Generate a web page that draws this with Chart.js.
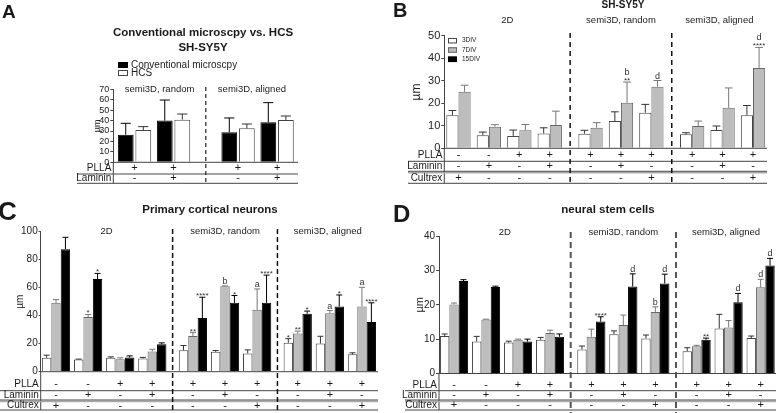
<!DOCTYPE html>
<html>
<head>
<meta charset="utf-8">
<script src="https://cdn.jsdelivr.net/npm/chart.js@4"></script>
<style>
  html, body { margin: 0; padding: 0; background: #fff; }
  #fig { position: relative; width: 777px; height: 413px; overflow: hidden; }
  #fig canvas { position: absolute; }
</style>
</head>
<body>
<div id="fig">
  <canvas id="panelA" width="390" height="195" style="left:0;top:0"></canvas>
  <canvas id="panelB" width="387" height="195" style="left:390px;top:0"></canvas>
  <canvas id="panelC" width="390" height="218" style="left:0;top:195px"></canvas>
  <canvas id="panelD" width="387" height="218" style="left:390px;top:195px"></canvas>
</div>
<script>
const FONT = '"Liberation Sans", Arial, Helvetica, sans-serif';

// conditions shared by panels B-D
const sectionNames = ['2D', 'semi3D, random', 'semi3D, aligned'];
const sectionSizes = [4, 3, 3];
const pllaRow = ['-', '-', '+', '+', '+', '+', '+', '+', '+', '+'];
const lamininRow = ['-', '+', '-', '+', '-', '+', '-', '-', '+', '-'];
const cultrexRow = ['+', '-', '-', '-', '-', '-', '+', '-', '-', '+'];
const divSeries = ['3DIV', '7DIV', '15DIV'];

// A - conventional microscopy vs HCS (SH-SY5Y)
const aSectionNames = ['semi3D, random', 'semi3D, aligned'];
const aSectionSizes = [2, 2];
const aPlla = ['+', '+', '+', '+'];
const aLaminin = ['-', '+', '-', '+'];
const aSeries = ['Conventional microscpy', 'HCS'];
const aConv = [26.5, 40, 28.8, 38.3];
const aConvErr = [10.9, 19.7, 13.7, 18.9];
const aHcs = [31, 40.9, 32.6, 40.6];
const aHcsErr = [3.2, 5.4, 4.1, 3.8];

// B - SH-SY5Y (no 15DIV values)
const b3div = [14.7, 5.8, 5.5, 6.6, 6.5, 12.1, 15.8, 6.2, 8.1, 14.7];
const b3divErr = [2.1, 1.4, 2.6, 2.5, 1.5, 4.1, 3.7, 0.7, 1.8, 4.3];
const b7div = [25.1, 9.6, 8, 10.3, 9.1, 20.2, 27.3, 9.9, 18, 35.7];
const b7divErr = [2.9, 0.9, 2.6, 6.2, 2.3, 9.2, 2.8, 2.2, 8.8, 9.1];
const b7divMarks = ['', '', '', '', '', '**b', 'd', '', '', '****d'];
const b15div = [];

// C - primary cortical neurons
const c3div = [9.9, 8.7, 9.9, 9.5, 15.4, 14.2, 13, 20.7, 20.1, 12.4];
const c3divErr = [1.9, 0.3, 0.7, 0.7, 3.3, 0.9, 2.6, 2.9, 5.2, 1.1];
const c3divMarks = ['', '', '', '', '', '', '', '*', '', ''];
const c7div = [49.2, 39, 8.9, 14.5, 25.5, 61, 44.2, 27.2, 41.8, 46.6];
const c7divErr = [2.3, 1.9, 1, 1.5, 2.4, 0.3, 14.9, 1.8, 1.9, 13.7];
const c7divMarks = ['', '*', '', '', '**', 'b', 'a', '**', 'a', 'a'];
const c15div = [87.5, 66.2, 10.1, 19.6, 38.3, 49.2, 49.2, 41.4, 46.6, 35.5];
const c15divErr = [8.5, 4, 1.2, 1, 14.9, 5.2, 19.8, 1.9, 8.2, 13.7];
const c15divMarks = ['', '*', '', '', '****', '*', '****', '*', '*', '****'];

// D - neural stem cells
const d3div = [10.9, 9.3, 9.0, 9.8, 7.0, 11.4, 10.2, 6.5, 13.1, 10.3];
const d3divErr = [0.6, 1.5, 0.4, 0.7, 1.0, 1.0, 1.0, 1.0, 4.1, 0.6];
const d7div = [20.1, 15.7, 9.8, 11.8, 10.7, 14.1, 17.9, 7.9, 13.4, 25.1];
const d7divErr = [0.4, 0.1, 0.2, 0.8, 2.2, 2.9, 1.5, 0.3, 2.0, 2.3];
const d7divMarks = ['', '', '', '', '', '', 'b', '', '', 'd'];
const d15div = [26.9, 25.2, 9.3, 10.7, 15.1, 25.3, 26.2, 9.8, 20.7, 31.4];
const d15divErr = [0.4, 0.2, 0.7, 0.8, 1.4, 3.7, 2.7, 0.5, 2.6, 2.1];
const d15divMarks = ['', '', '', '', '****', 'd', 'd', '**', 'd', 'd'];

const WHITE = { bg: '#ffffff', border: '#444444', err: '#333333' };
const GRAY = { bg: '#bdbdbd', border: '#666666', err: '#777777' };
const BLACK = { bg: '#000000', border: '#000000', err: '#000000' };

// x position of each group; sections are pushed apart by `gap`
function groupPositions(sizes, gap) {
  const xs = [];
  sizes.forEach((n, s) => {
    for (let i = 0; i < n; i++) xs.push(xs.length + s * gap);
  });
  return xs;
}

function series(label, data, errors, marks, style, pct) {
  return {
    label, data, errors, marks: marks || [],
    backgroundColor: style.bg, borderColor: style.border, errColor: style.err,
    borderWidth: 1, categoryPercentage: pct[0], barPercentage: pct[1], skipNull: true
  };
}

function decor(p) {
  const line = (ctx, x1, y1, x2, y2) => {
    ctx.beginPath(); ctx.moveTo(x1, y1); ctx.lineTo(x2, y2); ctx.stroke();
  };
  const text = (ctx, str, x, y, size, align, weight) => {
    ctx.font = `${weight || 'normal'} ${size}px ${FONT}`;
    ctx.textAlign = align || 'center';
    ctx.fillText(str, x, y);
  };
  return {
    id: 'decor',
    afterDatasetsDraw(chart) {
      const { ctx, scales: { y } } = chart;
      ctx.save();
      chart.data.datasets.forEach((ds, di) => {
        chart.getDatasetMeta(di).data.forEach((bar, i) => {
          const v = ds.data[i];
          if (v == null) return;
          const top = y.getPixelForValue(v + (ds.errors[i] || 0));
          const half = bar.width * 0.32;
          ctx.strokeStyle = ds.errColor;
          ctx.lineWidth = 1;
          line(ctx, bar.x, bar.y, bar.x, top);
          line(ctx, bar.x - half, top, bar.x + half, top);
          const mark = ds.marks[i] || '';
          const stars = mark.replace(/[^*]/g, '');
          const letter = mark.replace(/\*/g, '');
          ctx.fillStyle = '#333';
          ctx.textBaseline = 'alphabetic';
          if (stars) text(ctx, stars, bar.x, top + 1, 8);
          if (letter) text(ctx, letter, bar.x, top - (stars ? 7.5 : 2), 9);
        });
      });
      ctx.restore();
    },
    afterDraw(chart) {
      const { ctx, chartArea: a, scales: { x } } = chart;
      const xs = chart.data.labels.map(v => x.getPixelForValue(v));
      ctx.save();
      ctx.fillStyle = '#1a1a1a';
      ctx.textBaseline = 'middle';

      // zero line + condition table
      const tb = p.table;
      ctx.strokeStyle = '#444';
      ctx.lineWidth = 1;
      line(ctx, a.left, a.bottom, a.right, a.bottom);
      line(ctx, a.left, a.bottom, a.left, a.bottom + tb.lines[tb.lines.length - 1]);
      tb.lines.forEach((dy, r) => {
        const yy = a.bottom + dy;
        if (r === tb.double) {
          ctx.strokeStyle = '#aaa'; ctx.lineWidth = 1.5;
          line(ctx, tb.start, yy + 1.5, a.right, yy + 1.5);
        }
        ctx.strokeStyle = '#444'; ctx.lineWidth = 1;
        line(ctx, tb.start, yy, a.right, yy);
      });
      p.rows.forEach(([label, signs], r) => {
        const yy = a.bottom + tb.text[r];
        text(ctx, label, a.left - 2, yy, tb.size, 'right');
        signs.forEach((s, i) => text(ctx, s, xs[i], yy, tb.size + 1));
      });

      // section separators and headings
      const bounds = [a.left];
      let idx = 0;
      p.sizes.forEach((n, s) => {
        idx += n;
        if (s < p.sizes.length - 1) bounds.push((xs[idx - 1] + xs[idx]) / 2);
      });
      bounds.push(a.right);
      ctx.strokeStyle = p.dash.color;
      ctx.lineWidth = p.dash.width;
      ctx.setLineDash(p.dash.pattern);
      bounds.slice(1, -1).forEach(bx => line(ctx, bx, p.dash.top, bx, p.dash.bottom));
      ctx.setLineDash([]);
      p.names.forEach((name, s) => text(ctx, name, (bounds[s] + bounds[s + 1]) / 2, p.sectionY, 9.5));

      // legend
      const lg = p.legend;
      if (lg) {
        chart.data.datasets.forEach((ds, i) => {
          const cy = lg.y + i * lg.dy;
          ctx.fillStyle = ds.backgroundColor;
          ctx.fillRect(lg.x, cy - lg.h / 2, lg.w, lg.h);
          ctx.strokeStyle = ds.borderColor;
          ctx.lineWidth = 1;
          ctx.strokeRect(lg.x + 0.5, cy - lg.h / 2 + 0.5, lg.w - 1, lg.h - 1);
          ctx.fillStyle = '#1a1a1a';
          text(ctx, ds.label, lg.x + lg.w + lg.gap, cy, lg.size, 'left');
        });
      }

      // titles and panel letter
      p.titles.forEach(t => text(ctx, t.text, t.x, t.y, t.size, 'center', 'bold'));
      ctx.textBaseline = 'alphabetic';
      text(ctx, p.letter.text, p.letter.x, p.letter.y, p.letter.size, 'left', 'bold');
      ctx.restore();
    }
  };
}

function buildPanel(id, p) {
  const canvas = document.getElementById(id);
  const [aL, aT, aR, aB] = p.area;
  return new Chart(canvas, {
    type: 'bar',
    data: { labels: p.positions, datasets: p.datasets },
    options: {
      responsive: false,
      animation: false,
      events: [],
      layout: { padding: { left: aL - p.axisWidth, top: aT, right: canvas.width - aR, bottom: canvas.height - aB } },
      plugins: { legend: { display: false }, tooltip: { enabled: false } },
      scales: {
        x: {
          type: 'linear', min: p.xMin, max: p.xMax, display: false,
          offset: false, bounds: 'data', ticks: { count: 2 }
        },
        y: {
          min: 0, max: p.yMax,
          afterFit: s => { s.width = p.axisWidth; },
          border: { display: true, color: '#444', width: 1 },
          grid: { display: true, drawOnChartArea: false, drawTicks: true, tickLength: p.tickLen, color: '#444' },
          ticks: {
            stepSize: p.yStep, autoSkip: false, padding: 1, color: '#222',
            font: { family: FONT, size: p.tickSize }
          },
          title: {
            display: true, text: 'µm', padding: 0, color: '#222',
            font: { family: FONT, size: p.unitSize, lineHeight: 1 }
          }
        }
      }
    },
    plugins: [decor(p)]
  });
}

buildPanel('panelA', {
  positions: groupPositions(aSectionSizes, 0.654),
  sizes: aSectionSizes, names: aSectionNames,
  xMin: -0.544, xMax: 4.19, yMax: 70, yStep: 10,
  area: [113.3, 89.3, 298, 162.3], axisWidth: 19.8, tickSize: 9, unitSize: 9, tickLen: 3,
  datasets: [
    series(aSeries[0], aConv, aConvErr, null, BLACK, [0.9, 0.9]),
    series(aSeries[1], aHcs, aHcsErr, null, WHITE, [0.9, 0.9])
  ],
  rows: [['PLLA', aPlla], ['Laminin', aLaminin]],
  table: { text: [6, 15.5], lines: [11.7, 21], double: -1, start: 77, size: 10 },
  dash: { top: 87, bottom: 185, color: '#222', width: 1.2, pattern: [4, 3] },
  sectionY: 89.3,
  legend: { x: 118, y: 65, dy: 8, w: 10, h: 6, gap: 3, size: 10 },
  titles: [
    { text: 'Conventional microscpy vs. HCS', x: 203, y: 33, size: 11.5 },
    { text: 'SH-SY5Y', x: 203, y: 48, size: 11.5 }
  ],
  letter: { text: 'A', x: 2, y: 18, size: 19 }
});

buildPanel('panelB', {
  positions: groupPositions(sectionSizes, 0.34),
  sizes: sectionSizes, names: sectionNames,
  xMin: -0.466, xMax: 10.14, yMax: 50, yStep: 10,
  area: [54.3, 35.7, 377, 148.3], axisWidth: 33.3, tickSize: 11, unitSize: 12, tickLen: 3,
  datasets: [
    series(divSeries[0], b3div, b3divErr, null, WHITE, [0.8, 1]),
    series(divSeries[1], b7div, b7divErr, b7divMarks, GRAY, [0.8, 1]),
    series(divSeries[2], b15div, [], null, BLACK, [0.8, 1])
  ],
  rows: [['PLLA', pllaRow], ['Laminin', lamininRow], ['Cultrex', cultrexRow]],
  table: { text: [7, 18, 29.5], lines: [13, 23, 35], double: 1, start: 18, size: 10 },
  dash: { top: 33, bottom: 185, color: '#111', width: 1.5, pattern: [5, 4] },
  sectionY: 20,
  legend: { x: 58, y: 40.7, dy: 9.3, w: 9, h: 5.5, gap: 5, size: 6.5 },
  titles: [{ text: 'SH-SY5Y', x: 233, y: 5, size: 10 }],
  letter: { text: 'B', x: 3, y: 17, size: 20 }
});

buildPanel('panelC', {
  positions: groupPositions(sectionSizes, 0.265),
  sizes: sectionSizes, names: sectionNames,
  xMin: -0.477, xMax: 10.03, yMax: 100, yStep: 20,
  area: [40.7, 36.7, 378, 176.7], axisWidth: 25.2, tickSize: 10, unitSize: 10, tickLen: 2,
  datasets: [
    series(divSeries[0], c3div, c3divErr, c3divMarks, WHITE, [0.88, 1]),
    series(divSeries[1], c7div, c7divErr, c7divMarks, GRAY, [0.88, 1]),
    series(divSeries[2], c15div, c15divErr, c15divMarks, BLACK, [0.88, 1])
  ],
  rows: [['PLLA', pllaRow], ['Laminin', lamininRow], ['Cultrex', cultrexRow]],
  table: { text: [12.5, 23.5, 33.8], lines: [19, 28.3, 38.3], double: 1, start: 0, size: 10 },
  dash: { top: 34, bottom: 218, color: '#111', width: 1.5, pattern: [5, 3] },
  sectionY: 36.7,
  legend: null,
  titles: [{ text: 'Primary cortical neurons', x: 210, y: 15, size: 11.5 }],
  letter: { text: 'C', x: -2, y: 25, size: 26 }
});

buildPanel('panelD', {
  positions: groupPositions(sectionSizes, 0.29),
  sizes: sectionSizes, names: sectionNames,
  xMin: -0.47, xMax: 10.06, yMax: 40, yStep: 10,
  area: [49, 41, 386, 178.5], axisWidth: 24.5, tickSize: 10, unitSize: 11, tickLen: 3,
  datasets: [
    series(divSeries[0], d3div, d3divErr, null, WHITE, [0.88, 1]),
    series(divSeries[1], d7div, d7divErr, d7divMarks, GRAY, [0.88, 1]),
    series(divSeries[2], d15div, d15divErr, d15divMarks, BLACK, [0.88, 1])
  ],
  rows: [['PLLA', pllaRow], ['Laminin', lamininRow], ['Cultrex', cultrexRow]],
  table: { text: [11.5, 21.5, 31.8], lines: [17.2, 26.5, 36.5], double: 1, start: 15, size: 10 },
  dash: { top: 37, bottom: 218, color: '#555', width: 2, pattern: [6, 4] },
  sectionY: 37,
  legend: null,
  titles: [{ text: 'neural stem cells', x: 218, y: 15, size: 11.5 }],
  letter: { text: 'D', x: 3, y: 27, size: 24 }
});
</script>
</body>
</html>
